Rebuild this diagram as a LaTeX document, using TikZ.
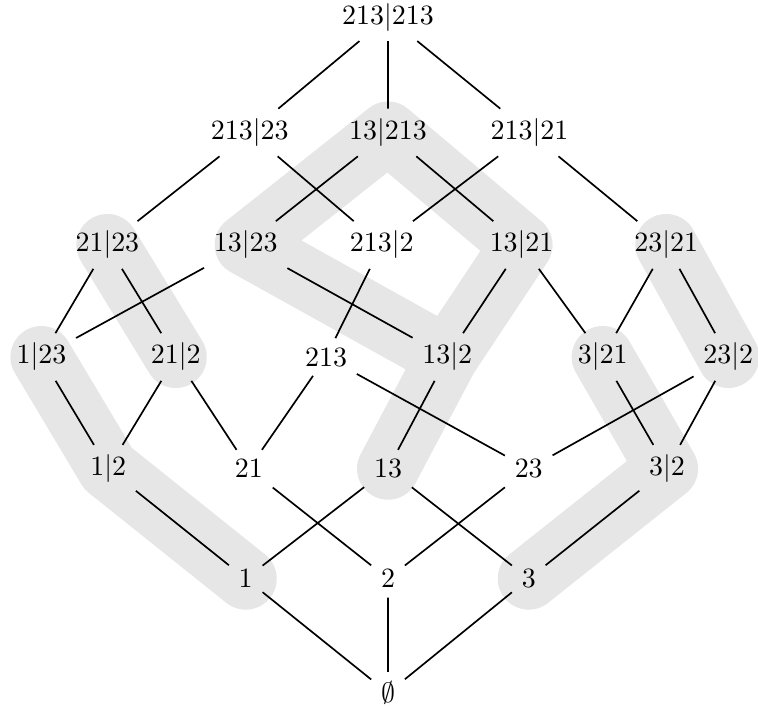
\documentclass[tikz,border=0pt]{standalone}
\usepackage{amsmath}
\usepackage{tikz}
\usetikzlibrary{backgrounds}
\definecolor{myband}{RGB}{230,230,230}
\tikzset{
  elem/.style={inner sep=3.33pt},
  line/.style={semithick, color=black},
  band/.style={line width=0.78cm, color=myband, line cap=round, line join=round}
}

\begin{document}
\begin{tikzpicture}
  \useasboundingbox (-4.881,-0.201) rectangle (4.654,8.717);
  % rows of the lattice
  \node[elem] (n213-213) at (0,8.50) {$213|213$};

  \node[elem] (n213-23) at (-1.74,7.05) {$213|23$};
  \node[elem] (n13-213) at (0,7.05) {$13|213$};
  \node[elem] (n213-21) at (1.78,7.05) {$213|21$};

  \node[elem] (n21-23) at (-3.53,5.635) {$21|23$};
  \node[elem] (n13-23) at (-1.79,5.635) {$13|23$};
  \node[elem] (n213-2) at (-0.08,5.635) {$213|2$};
  \node[elem] (n13-21) at (1.68,5.635) {$13|21$};
  \node[elem] (n23-21) at (3.50,5.635) {$23|21$};

  \node[elem] (n1-23) at (-4.36,4.226) {$1|23$};
  \node[elem] (n21-2) at (-2.67,4.226) {$21|2$};
  \node[elem] (n213) at (-0.78,4.226) {$213$};
  \node[elem] (n13-2) at (0.745,4.226) {$13|2$};
  \node[elem] (n3-21) at (2.70,4.226) {$3|21$};
  \node[elem] (n23-2) at (4.28,4.226) {$23|2$};

  \node[elem] (n1-2) at (-3.52,2.821) {$1|2$};
  \node[elem] (n21) at (-1.75,2.821) {$21$};
  \node[elem] (n13) at (0,2.821) {$13$};
  \node[elem] (n23) at (1.77,2.821) {$23$};
  \node[elem] (n3-2) at (3.51,2.821) {$3|2$};

  \node[elem] (n1) at (-1.79,1.438) {$1$};
  \node[elem] (n2) at (0,1.438) {$2$};
  \node[elem] (n3) at (1.77,1.438) {$3$};

  \node[elem] (nE) at (0,0) {$\emptyset$};

  % highlighted chains
  \begin{scope}[on background layer]
    \draw[band] (n1-23.center) -- (n1-2.center) -- (n1.center);
    \draw[band] (n21-23.center) -- (n21-2.center);
    \draw[band] (n13.center) -- (n13-2.center) -- (n13-23.center)
      -- (n13-213.center) -- (n13-21.center) -- (n13-2.center);
    \draw[band] (n23-21.center) -- (n23-2.center);
    \draw[band] (n3-21.center) -- (n3-2.center) -- (n3.center);
  \end{scope}

  % covering relations
  \draw[line] (n213-213) -- (n213-23) (n213-213) -- (n13-213) (n213-213) -- (n213-21);
  \draw[line] (n213-23) -- (n21-23) (n213-23) -- (n213-2)
    (n13-213) -- (n13-23) (n13-213) -- (n13-21)
    (n213-21) -- (n213-2) (n213-21) -- (n23-21);
  \draw[line] (n21-23) -- (n1-23) (n21-23) -- (n21-2)
    (n13-23) -- (n1-23) (n13-23) -- (n13-2)
    (n213-2) -- (n213)
    (n13-21) -- (n13-2) (n13-21) -- (n3-21)
    (n23-21) -- (n3-21) (n23-21) -- (n23-2);
  \draw[line] (n1-23) -- (n1-2)
    (n21-2) -- (n1-2) (n21-2) -- (n21)
    (n213) -- (n21) (n213) -- (n23)
    (n13-2) -- (n13)
    (n3-21) -- (n3-2)
    (n23-2) -- (n23) (n23-2) -- (n3-2);
  \draw[line] (n1-2) -- (n1) (n21) -- (n2)
    (n13) -- (n1) (n13) -- (n3)
    (n23) -- (n2) (n3-2) -- (n3);
  \draw[line] (n1) -- (nE) (n2) -- (nE) (n3) -- (nE);
\end{tikzpicture}
\end{document}
